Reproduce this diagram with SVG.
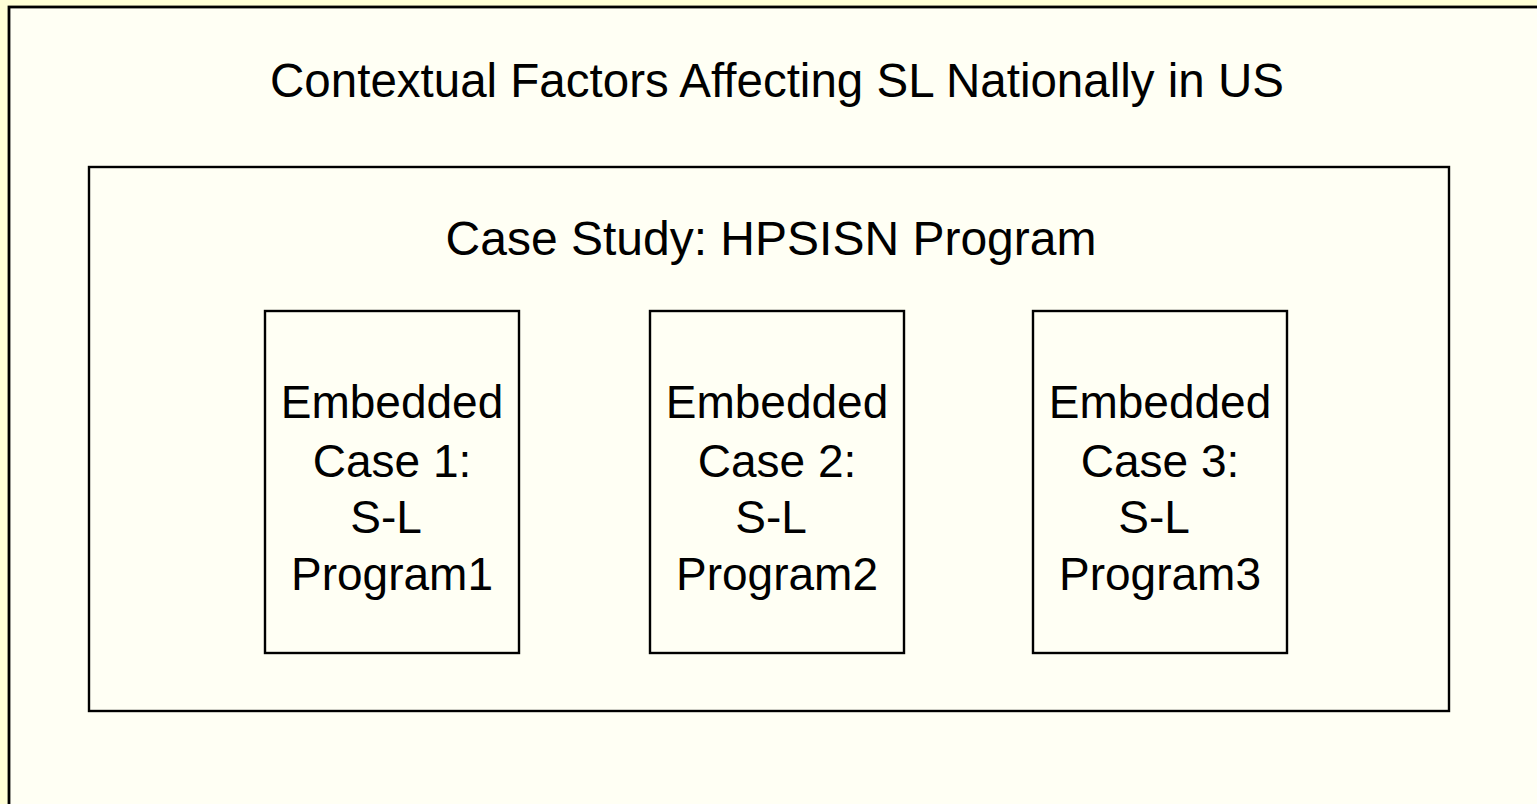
<svg xmlns="http://www.w3.org/2000/svg" width="1537" height="804" viewBox="0 0 1537 804">
  <style>
    .box { fill: none; stroke: #000; stroke-width: 2.4; }
    .lbl { font-family: "Liberation Sans", Arial, sans-serif; font-size: 46px; fill: #000; text-anchor: middle; }
    .head { font-size: 47.5px; }
    .sub { font-size: 48px; }
  </style>
  <!-- page background and slide frame -->
  <rect x="0" y="0" width="1537" height="804" fill="#FFFFD6"/>
  <rect x="9" y="7" width="1600" height="900" fill="#FFFFF4" stroke="#000" stroke-width="2.8"/>

  <g id="context">
    <text class="lbl head" x="777" y="97">Contextual Factors Affecting SL Nationally in US</text>
  </g>

  <g id="case-study">
    <rect class="box" x="89" y="167" width="1360" height="544"/>
    <text class="lbl sub" x="771" y="255">Case Study: HPSISN Program</text>
  </g>

  <g id="embedded-1">
    <rect class="box" x="265" y="311" width="254" height="342"/>
    <text class="lbl" x="392" y="418">Embedded</text>
    <text class="lbl" x="392" y="477">Case 1:</text>
    <text class="lbl" x="386" y="533">S-L</text>
    <text class="lbl" x="392" y="590">Program1</text>
  </g>

  <g id="embedded-2">
    <rect class="box" x="650" y="311" width="254" height="342"/>
    <text class="lbl" x="777" y="418">Embedded</text>
    <text class="lbl" x="777" y="477">Case 2:</text>
    <text class="lbl" x="771" y="533">S-L</text>
    <text class="lbl" x="777" y="590">Program2</text>
  </g>

  <g id="embedded-3">
    <rect class="box" x="1033" y="311" width="254" height="342"/>
    <text class="lbl" x="1160" y="418">Embedded</text>
    <text class="lbl" x="1160" y="477">Case 3:</text>
    <text class="lbl" x="1154" y="533">S-L</text>
    <text class="lbl" x="1160" y="590">Program3</text>
  </g>

  <g id="connectors"/>
</svg>
